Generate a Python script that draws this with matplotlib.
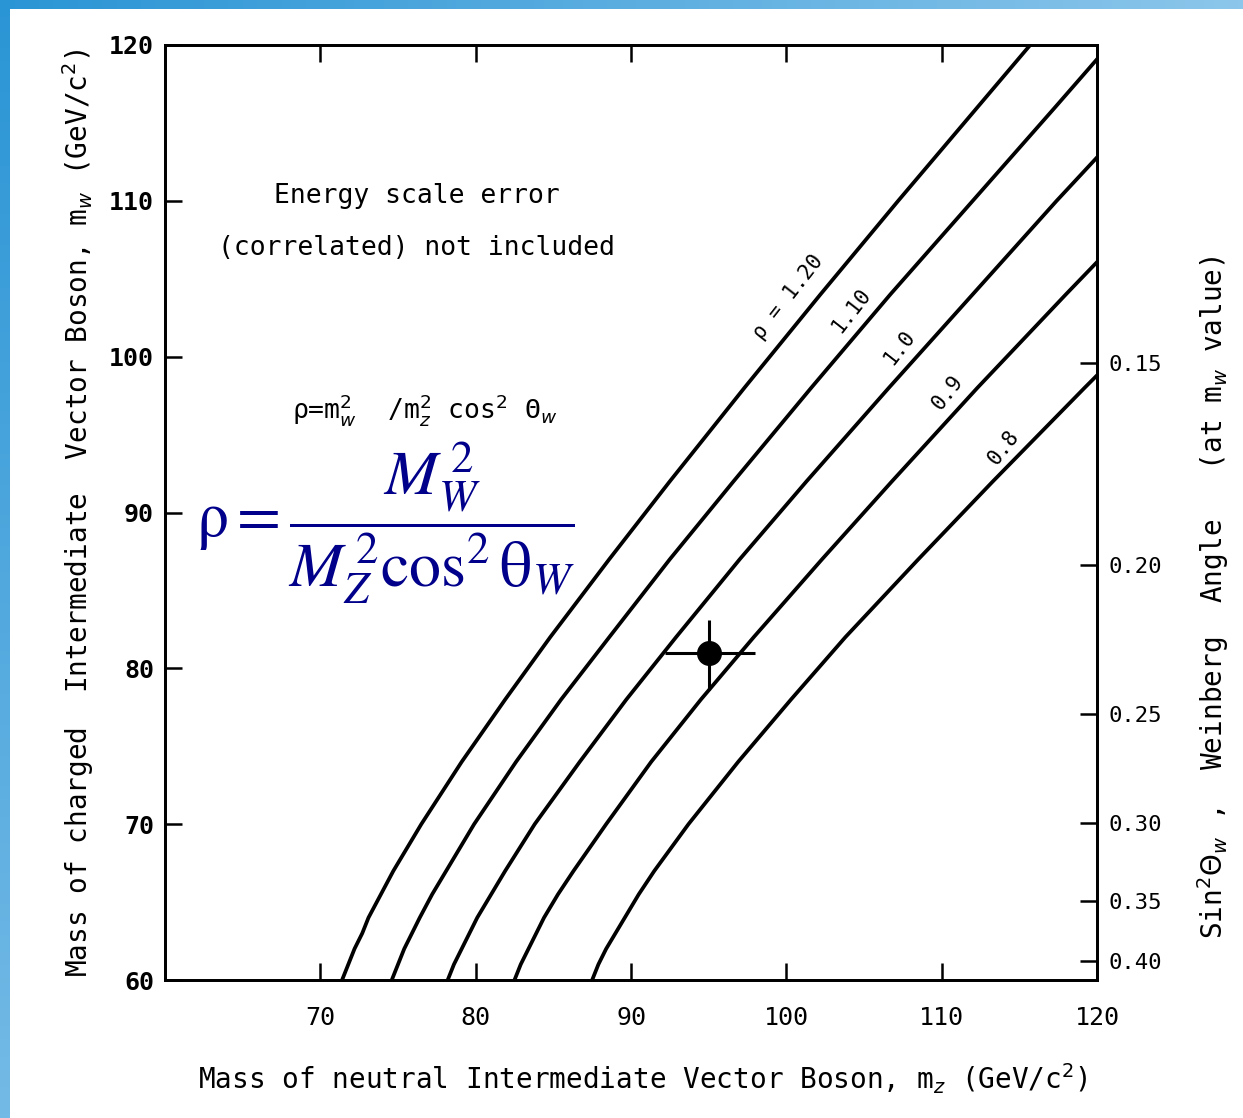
import matplotlib.pyplot as plt
import numpy as np
from matplotlib.colors import LinearSegmentedColormap

# rho curves: m_Z (GeV/c^2) at each m_W level
mw_curve = [60, 61, 62, 63, 64, 65.5, 67, 70, 74, 78, 82, 87, 92, 98, 104, 110, 116, 120]
mz_120 = [71.4, 71.8, 72.2, 72.7, 73.1, 73.9, 74.7, 76.5, 79.1, 81.9, 84.8, 88.6, 92.5, 97.3, 102.2, 107.2, 112.3, 115.7]
mz_110 = [74.6, 75.0, 75.4, 75.9, 76.4, 77.2, 78.1, 79.9, 82.6, 85.5, 88.6, 92.5, 96.6, 101.6, 106.7, 112.0, 117.3, 120.8]
mz_100 = [78.2, 78.6, 79.1, 79.6, 80.1, 81.0, 81.9, 83.8, 86.7, 89.7, 92.9, 97.0, 101.3, 106.6, 112.0, 117.4, 123.0, 126.7]
mz_090 = [82.5, 82.9, 83.4, 83.9, 84.4, 85.3, 86.3, 88.4, 91.3, 94.5, 97.9, 102.3, 106.8, 112.3, 118.0, 123.8, 129.6, 133.6]
mz_080 = [87.5, 87.9, 88.4, 89.0, 89.6, 90.5, 91.5, 93.7, 96.9, 100.3, 103.8, 108.5, 113.3, 119.2, 125.2, 131.3, 137.5, 141.7]

rho_labels = ["ρ = 1.20", "1.10", "1.0", "0.9", "0.8"]

# measured point
mz_meas = [95.0]
mw_meas = [81.0]
mz_err = [[2.8], [3.0]]
mw_err = [[2.4], [2.1]]

# axes ticks
x_ticks = [70, 80, 90, 100, 110, 120]
y_ticks = [60, 70, 80, 90, 100, 110, 120]
# right scale: sin^2 theta_W ticks, placed at m_W values
sin2_pos = [99.6, 86.6, 77.1, 70.1, 65.1, 61.2]
sin2_labels = ["0.15", "0.20", "0.25", "0.30", "0.35", "0.40"]

mono = "DejaVu Sans Mono"

fig = plt.figure(figsize=(12.43, 11.18), dpi=100)

# blue frame strips
cm_top = LinearSegmentedColormap.from_list("top", ["#2a95d5", "#8cc6eb"])
cm_left = LinearSegmentedColormap.from_list("left", ["#2a95d5", "#74bae6"])
top = fig.add_axes([0, 1 - 9 / 1118, 1, 9 / 1118])
top.imshow(np.linspace(0, 1, 256)[None, :], aspect="auto", cmap=cm_top)
top.axis("off")
left = fig.add_axes([0, 0, 10 / 1243, 1])
left.imshow(np.linspace(0, 1, 256)[:, None], aspect="auto", cmap=cm_left)
left.axis("off")

ax = fig.add_axes([165 / 1243, 138 / 1118, 932 / 1243, 935 / 1118])

for mz in [mz_120, mz_110, mz_100, mz_090, mz_080]:
    ax.plot(mz, mw_curve, color="black", lw=2.7, solid_capstyle="butt")

ax.errorbar(mz_meas, mw_meas, xerr=mz_err, yerr=mw_err, fmt="o", color="black",
            ms=17, elinewidth=2.2, capsize=0)

# curve labels
label_pos = [(100.1, 103.8), (104.2, 103.0), (107.3, 100.6), (110.4, 97.7), (114.0, 94.2)]
for (lx, ly), txt in zip(label_pos, rho_labels):
    ax.text(lx, ly, txt, rotation=52, ha="center", va="center", family=mono, fontsize=15)

ax.text(76.2, 110.3, "Energy scale error", ha="center", va="center", family=mono, fontsize=19)
ax.text(76.2, 107.0, "(correlated) not included", ha="center", va="center", family=mono, fontsize=19)
ax.text(76.7, 96.6, r"ρ=m$_w^2$  /m$_z^2$ cos$^2$ Θ$_w$", ha="center", va="center",
        family=mono, fontsize=19)

ax.text(74.2, 89.3, r"$\mathrm{\rho} = \dfrac{M_W^{\,2}}{M_Z^{\,2}\cos^2\mathrm{\theta}_W}$",
        ha="center", va="center", fontsize=46, color="#00008b", math_fontfamily="stix")

ax.set_xlim(60, 120)
ax.set_ylim(60, 120)
ax.set_xticks(x_ticks)
ax.set_yticks(y_ticks)
ax.tick_params(axis="x", direction="in", top=True, length=12, width=1.8, pad=19, labelsize=18)
ax.tick_params(axis="y", direction="in", right=False, length=12, width=1.8, pad=8, labelsize=18)
for lab in ax.get_xticklabels() + ax.get_yticklabels():
    lab.set_family(mono)
for lab in ax.get_yticklabels():
    lab.set_fontweight("bold")
for sp in ax.spines.values():
    sp.set_linewidth(2.0)

ax2 = ax.twinx()
ax2.set_ylim(60, 120)
ax2.set_yticks(sin2_pos)
ax2.set_yticklabels(sin2_labels, family=mono, fontsize=16)
ax2.tick_params(axis="y", direction="in", length=12, width=1.8, pad=8)
for sp in ax2.spines.values():
    sp.set_linewidth(2.0)

ax.text(0.513, -0.105, r"Mass of neutral Intermediate Vector Boson, m$_z$ (GeV/c$^2$)",
        transform=ax.transAxes, ha="center", va="center", family=mono, fontsize=20)
ax.text(-0.093, 0.50, r"Mass of charged  Intermediate  Vector Boson, m$_w$ (GeV/c$^2$)",
        transform=ax.transAxes, ha="center", va="center", rotation=90, family=mono, fontsize=20)
ax.text(1.1245, 0.409, r"Sin$^2\Theta_w$ ,  Weinberg  Angle   (at m$_w$ value)",
        transform=ax.transAxes, ha="center", va="center", rotation=90, family=mono, fontsize=20)

fig.savefig("out.png", dpi=100)
